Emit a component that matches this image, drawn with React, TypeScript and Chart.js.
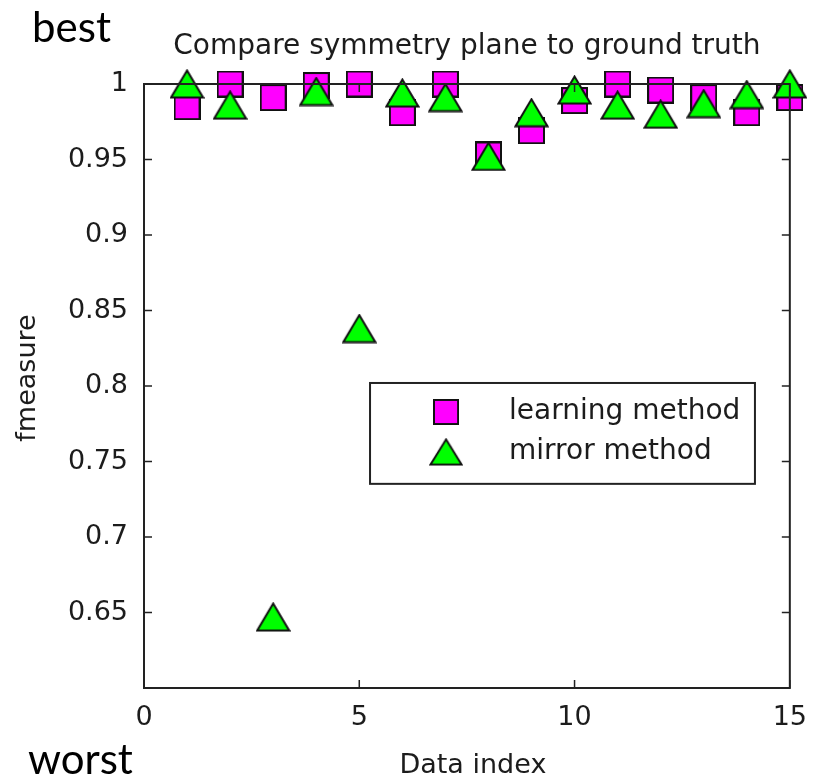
import React, { useEffect, useRef } from "react";
import { Chart, registerables } from "chart.js";

Chart.register(...registerables);

// Data index (x) and f-measure per method
const dataIndex = [1, 2, 3, 4, 5, 6, 7, 8, 9, 10, 11, 12, 13, 14, 15];
const learningMethod = [0.985, 1.0, 0.991, 0.999, 1.0, 0.981, 1.0, 0.953, 0.969, 0.989, 1.0, 0.996, 0.991, 0.981, 0.991];
const mirrorMethod = [1.0, 0.986, 0.647, 0.995, 0.838, 0.994, 0.991, 0.952, 0.981, 0.996, 0.986, 0.98, 0.987, 0.993, 1.0];

const xTicks = [0, 5, 10, 15];
const yTicks = [0.6, 0.65, 0.7, 0.75, 0.8, 0.85, 0.9, 0.95, 1];

const FONT = "'DejaVu Sans', sans-serif";
const INK = "#1c1c1c";

function squareMarker(size: number): HTMLCanvasElement {
  const c = document.createElement("canvas");
  c.width = size;
  c.height = size;
  const g = c.getContext("2d")!;
  g.fillStyle = "#ff00ff";
  g.fillRect(1, 1, size - 2, size - 2);
  g.strokeStyle = "#111";
  g.lineWidth = 2;
  g.strokeRect(1, 1, size - 2, size - 2);
  return c;
}

function triangleMarker(w: number, h: number): HTMLCanvasElement {
  const c = document.createElement("canvas");
  c.width = w;
  c.height = h;
  const g = c.getContext("2d")!;
  g.beginPath();
  g.moveTo(w / 2, 1.5);
  g.lineTo(w - 1.5, h - 1.5);
  g.lineTo(1.5, h - 1.5);
  g.closePath();
  g.fillStyle = "#00ff00";
  g.fill();
  g.strokeStyle = "#111";
  g.lineWidth = 2;
  g.lineJoin = "miter";
  g.stroke();
  return c;
}

export default function App() {
  const canvasRef = useRef<HTMLCanvasElement | null>(null);

  useEffect(() => {
    const canvas = canvasRef.current;
    if (!canvas) return;

    const sq = squareMarker(27);
    const tri = triangleMarker(35, 30);

    const learningLabel = "learning method";
    const mirrorLabel = "mirror method";

    // Frame with inward tick marks, drawn over the markers
    const framePlugin = {
      id: "frame",
      afterDatasetsDraw(chart: any) {
        const { ctx, chartArea: a, scales } = chart;
        ctx.save();
        ctx.strokeStyle = "#222";
        ctx.lineWidth = 2;
        ctx.strokeRect(a.left, a.top, a.right - a.left, a.bottom - a.top);
        ctx.lineWidth = 1.5;
        const t = 8;
        ctx.beginPath();
        for (const v of yTicks) {
          const y = scales.y.getPixelForValue(v);
          ctx.moveTo(a.left, y);
          ctx.lineTo(a.left + t, y);
          ctx.moveTo(a.right, y);
          ctx.lineTo(a.right - t, y);
        }
        for (const v of xTicks) {
          const x = scales.x.getPixelForValue(v);
          ctx.moveTo(x, a.bottom);
          ctx.lineTo(x, a.bottom - t);
          ctx.moveTo(x, a.top);
          ctx.lineTo(x, a.top + t);
        }
        ctx.stroke();
        ctx.restore();
      },
    };

    // Title, axis titles, legend box and the best/worst notes
    const textPlugin = {
      id: "texts",
      afterDraw(chart: any) {
        const { ctx, chartArea: a } = chart;
        const w = a.right - a.left;
        const h = a.bottom - a.top;
        ctx.save();
        ctx.fillStyle = INK;

        ctx.font = `28px ${FONT}`;
        ctx.textAlign = "center";
        ctx.textBaseline = "middle";
        ctx.fillText("Compare symmetry plane to ground truth", a.left + w / 2, a.top - 37);

        ctx.font = `27px ${FONT}`;
        ctx.fillText("Data index", a.left + w / 2 + 6, a.bottom + 78);

        ctx.save();
        ctx.translate(28, a.top + h / 2 - 8);
        ctx.rotate(-Math.PI / 2);
        ctx.fillText("fmeasure", 0, 0);
        ctx.restore();

        // legend
        const lx = a.left + 0.35 * w;
        const rx = a.left + 0.946 * w;
        const ty = a.top + 0.495 * h;
        const by = a.top + 0.662 * h;
        ctx.fillStyle = "#fff";
        ctx.fillRect(lx, ty, rx - lx, by - ty);
        ctx.strokeStyle = "#222";
        ctx.lineWidth = 2;
        ctx.strokeRect(lx, ty, rx - lx, by - ty);
        const mx = lx + 76;
        const r1 = ty + 29;
        const r2 = ty + 69;
        ctx.drawImage(sq, mx - 13, r1 - 13, 26, 26);
        ctx.drawImage(tri, mx - 17, r2 - 14, 34, 28);
        ctx.fillStyle = INK;
        ctx.font = `28px ${FONT}`;
        ctx.textAlign = "left";
        ctx.fillText(learningLabel, lx + 139, r1);
        ctx.fillText(mirrorLabel, lx + 139, r2);

        ctx.fillStyle = "#000";
        ctx.font = `42px Lato, 'Open Sans', sans-serif`;
        ctx.textBaseline = "alphabetic";
        ctx.fillText("best", 32, 42);
        ctx.fillText("worst", 28, 774);
        ctx.restore();
      },
    };

    const chart = new Chart(canvas, {
      type: "scatter",
      data: {
        datasets: [
          {
            label: learningLabel,
            data: dataIndex.map((x, i) => ({ x, y: learningMethod[i] })),
            pointStyle: sq as any,
            pointRadius: 13,
            clip: false,
            order: 2,
          },
          {
            label: mirrorLabel,
            data: dataIndex.map((x, i) => ({ x, y: mirrorMethod[i] })),
            pointStyle: tri as any,
            pointRadius: 15,
            clip: false,
            order: 1,
          },
        ],
      },
      options: {
        responsive: false,
        animation: false,
        events: [],
        layout: { padding: { top: 84, right: 29, left: 0, bottom: 0 } },
        plugins: {
          legend: { display: false },
          title: { display: false },
          tooltip: { enabled: false },
        },
        scales: {
          x: {
            type: "linear",
            min: 0,
            max: 15,
            afterFit: (s: any) => {
              s.height = 94;
            },
            afterBuildTicks: (s: any) => {
              s.ticks = xTicks.map((value) => ({ value }));
            },
            grid: { display: false, drawTicks: false },
            border: { display: false },
            ticks: {
              padding: 14,
              color: INK,
              font: { family: FONT, size: 27 },
              maxRotation: 0,
              callback: (v: any) => String(v),
            },
          },
          y: {
            type: "linear",
            min: 0.6,
            max: 1,
            afterFit: (s: any) => {
              s.width = 144;
            },
            afterBuildTicks: (s: any) => {
              s.ticks = yTicks.map((value) => ({ value }));
            },
            grid: { display: false, drawTicks: false },
            border: { display: false },
            ticks: {
              padding: 16,
              color: INK,
              font: { family: FONT, size: 27 },
              callback: (v: any) => (Math.abs(v - 0.6) < 1e-9 ? "" : String(+Number(v).toFixed(2))),
            },
          },
        },
      },
      plugins: [framePlugin, textPlugin],
    });

    return () => chart.destroy();
  }, []);

  return (
    <div style={{ position: "absolute", left: 0, top: 0, width: 821, height: 782, background: "#fff" }}>
      <canvas ref={canvasRef} width={821} height={782} />
    </div>
  );
}
